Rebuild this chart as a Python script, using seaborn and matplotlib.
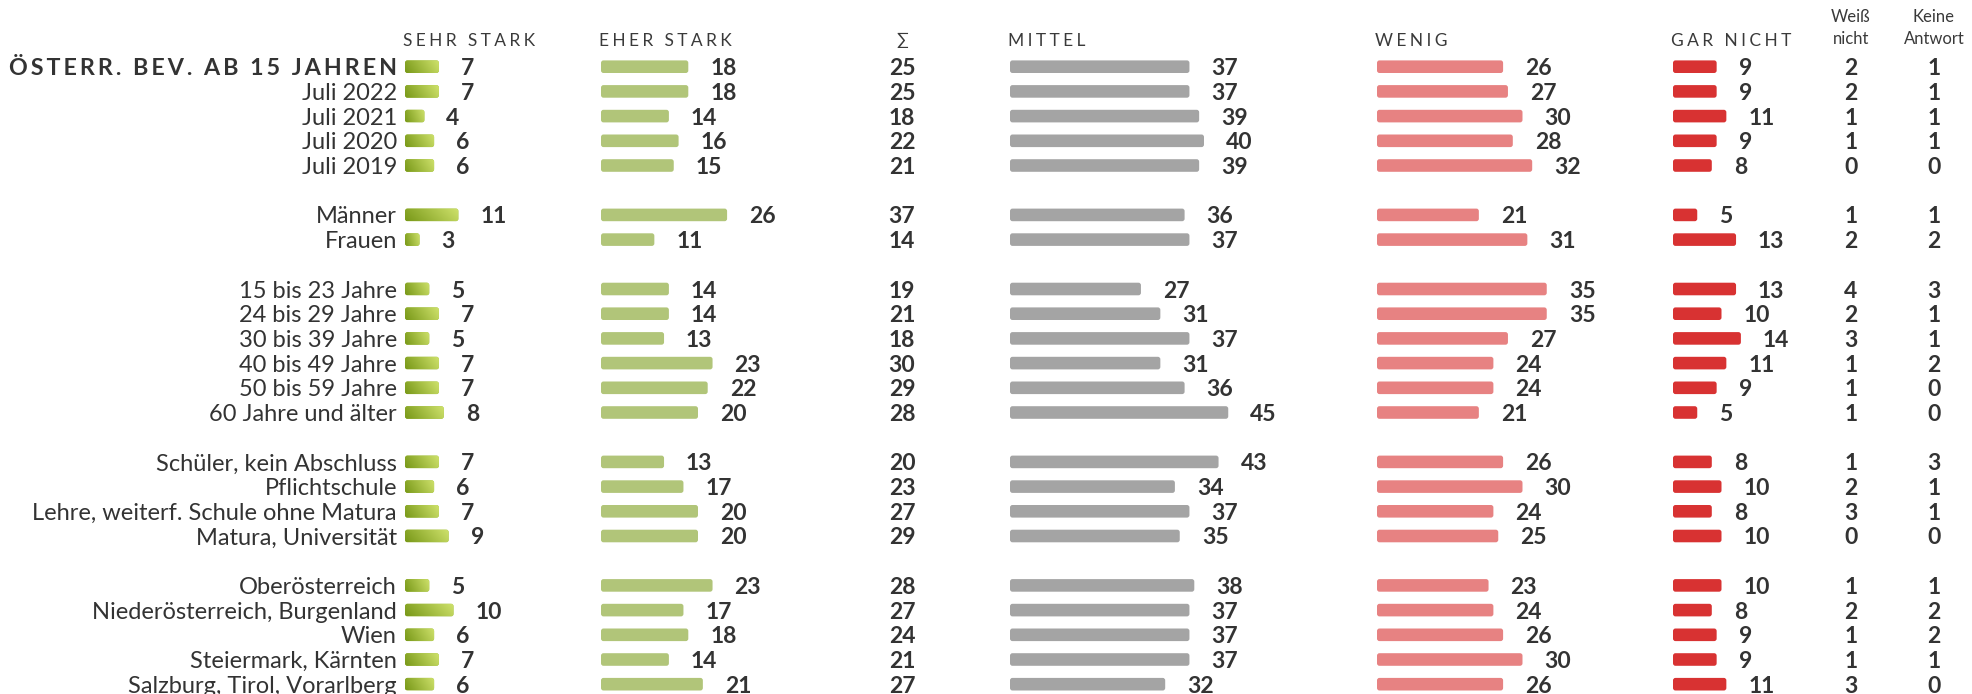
import numpy as np
import pandas as pd
import matplotlib
matplotlib.use("Agg")
import matplotlib.pyplot as plt
import seaborn as sns
from matplotlib.patches import FancyBboxPatch
from matplotlib.colors import LinearSegmentedColormap

# ---------------------------------------------------------------- data
group_labels = [
    ["ÖSTERR. BEV. AB 15 JAHREN", "Juli 2022", "Juli 2021", "Juli 2020", "Juli 2019"],
    ["Männer", "Frauen"],
    ["15 bis 23 Jahre", "24 bis 29 Jahre", "30 bis 39 Jahre", "40 bis 49 Jahre",
     "50 bis 59 Jahre", "60 Jahre und älter"],
    ["Schüler, kein Abschluss", "Pflichtschule", "Lehre, weiterf. Schule ohne Matura",
     "Matura, Universität"],
    ["Oberösterreich", "Niederösterreich, Burgenland", "Wien", "Steiermark, Kärnten",
     "Salzburg, Tirol, Vorarlberg"],
]

sehr_stark = [7, 7, 4, 6, 6, 11, 3, 5, 7, 5, 7, 7, 8, 7, 6, 7, 9, 5, 10, 6, 7, 6]
eher_stark = [18, 18, 14, 16, 15, 26, 11, 14, 14, 13, 23, 22, 20, 13, 17, 20, 20, 23, 17, 18, 14, 21]
summe = [25, 25, 18, 22, 21, 37, 14, 19, 21, 18, 30, 29, 28, 20, 23, 27, 29, 28, 27, 24, 21, 27]
mittel = [37, 37, 39, 40, 39, 36, 37, 27, 31, 37, 31, 36, 45, 43, 34, 37, 35, 38, 37, 37, 37, 32]
wenig = [26, 27, 30, 28, 32, 21, 31, 35, 35, 27, 24, 24, 21, 26, 30, 24, 25, 23, 24, 26, 30, 26]
gar_nicht = [9, 9, 11, 9, 8, 5, 13, 13, 10, 14, 11, 9, 5, 8, 10, 8, 10, 10, 8, 9, 9, 11]
weiss_nicht = [2, 2, 1, 1, 0, 1, 2, 4, 2, 3, 1, 1, 1, 1, 2, 3, 0, 1, 2, 1, 1, 3]
keine_antwort = [1, 1, 1, 1, 0, 1, 2, 3, 1, 1, 2, 0, 0, 3, 1, 1, 0, 1, 2, 2, 1, 0]

headers = ["SEHR STARK", "EHER STARK", "MITTEL", "WENIG", "GAR NICHT"]

# ---------------------------------------------------------------- layout
W, H = 1972, 694
PX_PER_UNIT = 4.85          # bar length in pixels per percent point
ROW0_PX, ROW_PX = 66.7, 24.7
TXT = "#333333"
FONT = ["Lato", "DejaVu Sans"]
HAIR = "\u200a"

sns.set_theme(style="white")
plt.rcParams["font.family"] = FONT


def spaced(text, n=1):
    """Widen tracking by putting hair spaces between the letters."""
    return (HAIR * n).join(text)


# row slots: one blank slot between groups
labels, slots = [], []
s = 0
for g in group_labels:
    for lab in g:
        labels.append(lab)
        slots.append(s)
        s += 1
    s += 1
slots = np.array(slots, dtype=float)

y_top = -ROW0_PX / ROW_PX
y_bot = (H - ROW0_PX) / ROW_PX


def px2slot(py):
    return (py - ROW0_PX) / ROW_PX


fig = plt.figure(figsize=(W / 100, H / 100), dpi=100)
fig.patch.set_facecolor("white")
ax = fig.add_axes([0, 0, 1, 1])
ax.set_xlim(0, W)
ax.set_ylim(y_bot, y_top)
ax.axis("off")

columns = [
    # values, bar start px, colour, gradient
    (sehr_stark, 405, "#9cbb3c", True),
    (eher_stark, 601, "#b1c579", False),
    (mittel, 1010, "#a4a4a4", False),
    (wenig, 1377, "#e78282", False),
    (gar_nicht, 1673, "#d83232", False),
]

grad_cmap = LinearSegmentedColormap.from_list("olive", ["#789818", "#cfe26c"])
RADIUS_PX = 2.5
LABEL_PAD_PT = 22 * 72 / 100

for (vals, x0, col, grad), head in zip(columns, headers):
    span_px = 290
    bax = fig.add_axes([x0 / W, 0, span_px / W, 1], sharey=ax)
    bax.patch.set_alpha(0)
    df = pd.DataFrame({"slot": slots, "value": vals})
    sns.barplot(data=df, x="value", y="slot", orient="h", native_scale=True,
                width=0.51, color=col, saturation=1, errorbar=None, ax=bax)
    bax.set_xlim(0, span_px / PX_PER_UNIT)
    bax.axis("off")

    # rounded bar corners
    r = RADIUS_PX / PX_PER_UNIT
    asp = PX_PER_UNIT / ROW_PX
    for p in list(bax.patches):
        bx, by, bw, bh = p.get_x(), p.get_y(), p.get_width(), p.get_height()
        fb = FancyBboxPatch((bx, by), bw, bh,
                            boxstyle=f"round,pad=0,rounding_size={r}",
                            mutation_aspect=asp, facecolor=col,
                            edgecolor="none", zorder=2)
        bax.add_patch(fb)
        p.set_visible(False)
        if grad:
            xx, yy = np.meshgrid(np.linspace(0, 1, 64), np.linspace(0, 1, 32))
            t = 0.8 * xx + 0.2 * (1 - yy)
            im = bax.imshow(t, cmap=grad_cmap, vmin=0, vmax=1, aspect="auto",
                            origin="upper", extent=(bx, bx + bw, by + bh, by),
                            interpolation="bilinear", zorder=3)
            im.set_clip_path(fb)

    # value labels just right of each bar
    for v, sl in zip(vals, slots):
        bax.annotate(f"{v}", xy=(v, sl), xytext=(LABEL_PAD_PT, 0),
                     textcoords="offset points", ha="left",
                     va="center_baseline", fontsize=16.5, fontweight="bold",
                     color=TXT, family=FONT)
    bax.set_xlim(0, span_px / PX_PER_UNIT)

    ax.text(x0 - 2, px2slot(39), spaced(head, 3), ha="left", va="center_baseline",
            fontsize=12.5, fontweight="normal", color="#3a3a3a", family=FONT)

# row labels
for i, (lab, sl) in enumerate(zip(labels, slots)):
    if i == 0:
        ax.text(397, sl, spaced(lab, 2), ha="right", va="center_baseline",
                fontsize=16.75, fontweight="bold", color=TXT, family=FONT)
    else:
        ax.text(397, sl, lab, ha="right", va="center_baseline", fontsize=17,
                color=TXT, family=FONT)

# text-only columns
for vals, cx in [(summe, 902), (weiss_nicht, 1851), (keine_antwort, 1934)]:
    for v, sl in zip(vals, slots):
        ax.text(cx, sl, f"{v}", ha="center", va="center_baseline", fontsize=16.5,
                fontweight="bold", color=TXT, family=FONT)

ax.text(902, px2slot(39), "∑", ha="center", va="center_baseline", fontsize=12.5,
        color="#3a3a3a", family=FONT)
ax.text(1851, px2slot(28), "Weiß\nnicht", ha="center", va="center", fontsize=12,
        color="#3a3a3a", family=FONT, linespacing=1.5)
ax.text(1934, px2slot(28), "Keine\nAntwort", ha="center", va="center", fontsize=12,
        color="#3a3a3a", family=FONT, linespacing=1.5)

ax.set_ylim(y_bot, y_top)
fig.savefig("out.png", dpi=100, facecolor="white")
